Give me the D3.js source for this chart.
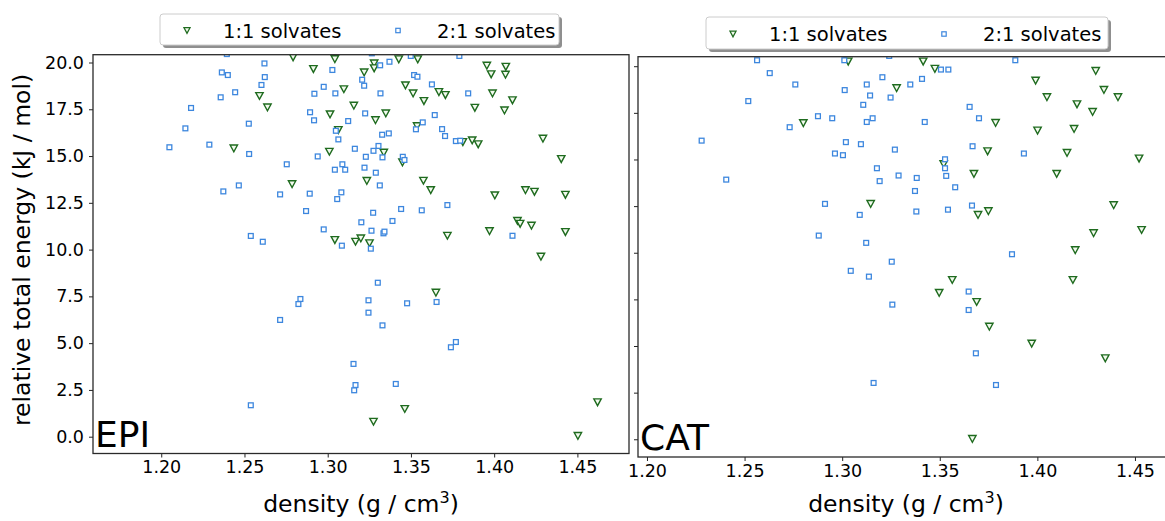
<!DOCTYPE html>
<html>
<head>
<meta charset="utf-8">
<script src="https://cdnjs.cloudflare.com/ajax/libs/d3/7.8.5/d3.min.js"></script>
<style>
  body { margin: 0; background: #fff; }
  text { font-family: "DejaVu Sans", sans-serif; fill: #000; }
</style>
</head>
<body>
<div class="chart"></div>
<script>
var svgWidth = 1165;
var svgHeight = 521;

var xTicks = [1.20, 1.25, 1.30, 1.35, 1.40, 1.45];
var yTicks = [0, 2.5, 5, 7.5, 10, 12.5, 15, 17.5, 20];
var seriesNames = ["1:1 solvates", "2:1 solvates"];

// EPI 1:1 solvates, [density, relative energy]
var epi11 = [
  [1.2792, 20.28], [1.3043, 20.18], [1.2914, 19.65], [1.3219, 19.47], [1.3097, 18.57],
  [1.2590, 18.21], [1.2638, 17.60], [1.3157, 17.69], [1.3014, 17.23], [1.3064, 16.39],
  [1.2436, 15.41], [1.3010, 15.23], [1.3235, 13.67], [1.2786, 13.50], [1.3043, 10.51],
  [1.3167, 10.42], [1.3199, 10.60], [1.3251, 10.34], [1.3279, 19.95], [1.3279, 19.69],
  [1.3427, 20.17], [1.3541, 20.17], [1.3956, 19.83], [1.4070, 19.77], [1.3982, 19.37],
  [1.4068, 19.35], [1.3467, 18.78], [1.3513, 18.35], [1.3668, 18.42], [1.3707, 18.26],
  [1.3990, 18.35], [1.4110, 17.98], [1.3578, 17.94], [1.3884, 17.58], [1.4062, 17.44],
  [1.3349, 17.28], [1.3287, 16.92], [1.3537, 16.60], [1.4293, 15.93], [1.3812, 15.75],
  [1.3868, 15.84], [1.3904, 15.63], [1.4403, 14.84], [1.3337, 15.18], [1.3449, 14.66],
  [1.3575, 13.68], [1.3619, 13.18], [1.4004, 12.90], [1.4188, 13.18], [1.4242, 13.09],
  [1.4428, 12.93], [1.4140, 11.53], [1.4156, 11.38], [1.4224, 11.28], [1.3972, 10.99],
  [1.4428, 10.94], [1.3719, 10.74], [1.4281, 9.62], [1.3650, 7.70], [1.3463, 1.48],
  [1.3275, 0.80], [1.4621, 1.84], [1.4503, 0.04]
];

// EPI 2:1 solvates
var epi21 = [
  [1.2394, 20.45], [1.2620, 19.95], [1.2364, 19.47], [1.2400, 19.33], [1.2622, 19.22],
  [1.2602, 18.80], [1.2444, 18.41], [1.2357, 18.14], [1.2179, 17.57], [1.2526, 16.73],
  [1.2145, 16.48], [1.2049, 15.47], [1.2289, 15.61], [1.2528, 15.11], [1.2754, 14.56],
  [1.2373, 13.11], [1.2466, 13.43], [1.2714, 12.95], [1.2892, 12.99], [1.2870, 12.06],
  [1.2976, 11.08], [1.2538, 10.73], [1.2610, 10.42], [1.3028, 19.60], [1.2920, 18.33],
  [1.2976, 18.70], [1.3046, 18.35], [1.2894, 17.34], [1.2918, 16.91], [1.3123, 16.87],
  [1.3049, 16.35], [1.3064, 15.89], [1.2940, 14.98], [1.3163, 15.39], [1.3088, 14.56],
  [1.3043, 14.27], [1.3105, 14.27], [1.3082, 13.06], [1.3057, 12.70], [1.3202, 11.46],
  [1.3085, 10.21], [1.3207, 19.08], [1.3219, 18.76], [1.3225, 17.28], [1.3229, 14.96],
  [1.3221, 14.38], [1.3265, 20.49], [1.3499, 20.35], [1.3791, 20.35], [1.3371, 20.04],
  [1.3315, 19.85], [1.3519, 19.33], [1.3539, 19.24], [1.3317, 18.35], [1.3626, 18.83],
  [1.3844, 18.35], [1.3643, 17.19], [1.3571, 16.80], [1.3530, 16.43], [1.3687, 16.44],
  [1.3705, 16.07], [1.3327, 16.14], [1.3367, 16.21], [1.3770, 15.80], [1.3796, 15.82],
  [1.3305, 15.54], [1.3275, 15.28], [1.3329, 14.93], [1.3451, 14.96], [1.3461, 14.79],
  [1.3289, 14.11], [1.3313, 13.43], [1.3719, 12.38], [1.3441, 12.17], [1.3565, 12.10],
  [1.3273, 11.97], [1.3389, 11.53], [1.3263, 11.01], [1.3335, 10.87], [1.3341, 10.96],
  [1.4110, 10.74], [1.3259, 10.05], [1.2836, 7.36], [1.2824, 7.09], [1.2714, 6.24],
  [1.3155, 3.89], [1.3167, 2.76], [1.3159, 2.48], [1.2538, 1.68], [1.3301, 8.23],
  [1.3245, 7.29], [1.3245, 6.63], [1.3654, 7.20], [1.3477, 7.13], [1.3329, 5.95],
  [1.3770, 5.06], [1.3740, 4.78], [1.3409, 2.82]
];

// CAT 1:1 solvates
var cat11 = [
  [1.3031, 20.25], [1.3279, 18.82], [1.2801, 16.95], [1.3146, 12.62], [1.3415, 20.25],
  [1.3475, 19.86], [1.4299, 19.75], [1.3991, 19.23], [1.4341, 18.73], [1.4413, 18.34],
  [1.4049, 18.34], [1.4203, 17.96], [1.4283, 17.55], [1.3786, 16.96], [1.4001, 16.55],
  [1.4188, 16.64], [1.3745, 15.44], [1.4152, 15.35], [1.4521, 15.05], [1.3520, 14.75],
  [1.3675, 14.23], [1.4099, 14.23], [1.3696, 12.03], [1.3749, 12.23], [1.4391, 12.55],
  [1.4288, 11.05], [1.4534, 11.22], [1.4194, 10.14], [1.3564, 8.54], [1.4182, 8.54],
  [1.3497, 7.85], [1.3689, 7.36], [1.3754, 6.04], [1.3971, 5.13], [1.4348, 4.34],
  [1.3667, 0.02]
];

// CAT 2:1 solvates
var cat21 = [
  [1.2564, 20.32], [1.2629, 19.63], [1.2760, 19.02], [1.2519, 18.13], [1.2280, 16.01],
  [1.2406, 13.92], [1.2731, 16.73], [1.2876, 17.32], [1.2949, 17.21], [1.3011, 20.32],
  [1.3013, 18.72], [1.3126, 19.02], [1.3206, 19.41], [1.3143, 18.43], [1.3248, 18.32],
  [1.3108, 17.93], [1.3156, 17.21], [1.3126, 17.01], [1.3019, 15.93], [1.3096, 15.82],
  [1.2963, 15.32], [1.3004, 15.23], [1.3270, 15.53], [1.3178, 14.53], [1.3192, 13.84],
  [1.3289, 14.14], [1.2912, 12.62], [1.3090, 12.03], [1.2880, 10.92], [1.3123, 10.53],
  [1.3241, 20.55], [1.3887, 20.32], [1.3506, 19.82], [1.3544, 19.82], [1.3409, 19.32],
  [1.3349, 19.02], [1.3653, 17.82], [1.3701, 17.21], [1.3423, 17.01], [1.3668, 15.71],
  [1.3931, 15.32], [1.3527, 15.01], [1.3527, 14.53], [1.3533, 14.12], [1.3382, 14.01],
  [1.3579, 13.51], [1.3373, 13.31], [1.3665, 12.53], [1.3380, 12.21], [1.3542, 12.31],
  [1.3254, 9.52], [1.3044, 9.03], [1.3137, 8.72], [1.3257, 7.22], [1.3161, 3.02],
  [1.3870, 9.92], [1.3648, 7.92], [1.3648, 6.93], [1.3685, 4.61], [1.3788, 2.91]
];

var triColor = "#1f6b1f";
var triFill = "#f2faee";
var sqColor = "#3d87de";

var panels = [
  { name: "EPI", tri: epi11, sq: epi21, left: 93, right: 629, top: 54.7, bottom: 453.5,
    xDomain: [1.159, 1.481], yDomain: [-0.898, 20.417], yLabels: true,
    legend: { x: 160, y: 14, w: 399, h: 31 } },
  { name: "CAT", tri: cat11, sq: cat21, left: 638, right: 1174, top: 56.7, bottom: 457,
    xDomain: [1.1954, 1.4700], yDomain: [-0.95, 20.51], yLabels: false,
    legend: { x: 706, y: 17, w: 402, h: 32 } }
];

var svg = d3
  .select(".chart")
  .append("svg")
  .attr("width", svgWidth)
  .attr("height", svgHeight);

// downward triangle, centred on its box like matplotlib's "v"
function triPath(cx, cy, w, h) {
  return "M" + (cx - w / 2) + "," + (cy - h / 2) +
    "L" + (cx + w / 2) + "," + (cy - h / 2) +
    "L" + cx + "," + (cy + h / 2) + "Z";
}

panels.forEach(function(p, i) {
  var x = d3.scaleLinear().domain(p.xDomain).range([p.left, p.right]);
  var y = d3.scaleLinear().domain(p.yDomain).range([p.bottom, p.top]);

  svg.append("clipPath")
    .attr("id", "clip" + i)
    .append("rect")
    .attr("x", p.left).attr("y", p.top)
    .attr("width", p.right - p.left).attr("height", p.bottom - p.top);

  var plot = svg.append("g").attr("clip-path", "url(#clip" + i + ")");

  plot.selectAll("path.tri")
    .data(p.tri)
    .enter()
    .append("path")
    .attr("class", "tri")
    .attr("d", function(d) { return triPath(x(d[0]), y(d[1]), 7.4, 6.8); })
    .attr("fill", triFill)
    .attr("stroke", triColor)
    .attr("stroke-width", 1.4);

  plot.selectAll("rect.sq")
    .data(p.sq)
    .enter()
    .append("rect")
    .attr("class", "sq")
    .attr("x", function(d) { return x(d[0]) - 2.4; })
    .attr("y", function(d) { return y(d[1]) - 2.4; })
    .attr("width", 4.8)
    .attr("height", 4.8)
    .attr("fill", "#fff")
    .attr("stroke", sqColor)
    .attr("stroke-width", 1.3);

  // axes
  var bottomAxis = d3.axisBottom(x)
    .tickValues(xTicks)
    .tickFormat(d3.format(".2f"))
    .tickSize(4)
    .tickPadding(3.5);
  var leftAxis = d3.axisLeft(y)
    .tickValues(yTicks)
    .tickFormat(p.yLabels ? d3.format(".1f") : function() { return ""; })
    .tickSize(4)
    .tickPadding(5);

  var gx = svg.append("g")
    .attr("transform", "translate(0," + p.bottom + ")")
    .call(bottomAxis);
  var gy = svg.append("g")
    .attr("transform", "translate(" + p.left + ",0)")
    .call(leftAxis);

  [gx, gy].forEach(function(g) {
    g.select(".domain").remove();
    g.selectAll("line").attr("stroke", "#222").attr("stroke-width", 1);
    g.selectAll("text")
      .style("font-family", "'DejaVu Sans', sans-serif")
      .style("font-size", "17.5px")
      .attr("fill", "#111");
  });

  // frame
  svg.append("rect")
    .attr("x", p.left).attr("y", p.top)
    .attr("width", p.right - p.left).attr("height", p.bottom - p.top)
    .attr("fill", "none")
    .attr("stroke", "#2a2a2a")
    .attr("stroke-width", 1.3);

  // panel name
  svg.append("text")
    .attr("x", p.left + 2)
    .attr("y", p.bottom - 7)
    .style("font-size", "36px")
    .text(p.name);

  // x axis label
  var xl = svg.append("text")
    .attr("x", (p.left + p.right) / 2)
    .attr("y", 512)
    .attr("text-anchor", "middle")
    .style("font-size", "23.5px");
  xl.append("tspan").text("density (g / cm");
  xl.append("tspan").attr("dy", -9).style("font-size", "16px").text("3");
  xl.append("tspan").attr("dy", 9).text(")");

  // legend
  var lg = svg.append("g").attr("transform", "translate(" + p.legend.x + "," + p.legend.y + ")");
  lg.append("rect")
    .attr("x", 3).attr("y", 3)
    .attr("width", p.legend.w).attr("height", p.legend.h)
    .attr("rx", 3)
    .attr("fill", "#8f8f8f");
  lg.append("rect")
    .attr("width", p.legend.w).attr("height", p.legend.h)
    .attr("rx", 3)
    .attr("fill", "#fff")
    .attr("stroke", "#cccccc")
    .attr("stroke-width", 1);
  var my = p.legend.h / 2 + 1;
  lg.append("path")
    .attr("d", triPath(27, my, 6, 5.6))
    .attr("fill", triFill)
    .attr("stroke", triColor)
    .attr("stroke-width", 1.3);
  lg.append("text")
    .attr("x", 63).attr("y", my + 7)
    .style("font-size", "19.5px")
    .text(seriesNames[0]);
  lg.append("rect")
    .attr("x", 238 - 2.2).attr("y", my - 2.2)
    .attr("width", 4.4).attr("height", 4.4)
    .attr("fill", "#fff")
    .attr("stroke", sqColor)
    .attr("stroke-width", 1.2);
  lg.append("text")
    .attr("x", 277).attr("y", my + 7)
    .style("font-size", "19.5px")
    .text(seriesNames[1]);
});

// shared y label
svg.append("text")
  .attr("transform", "translate(30,250) rotate(-90)")
  .attr("text-anchor", "middle")
  .style("font-size", "23.5px")
  .text("relative total energy (kJ / mol)");
</script>
</body>
</html>
